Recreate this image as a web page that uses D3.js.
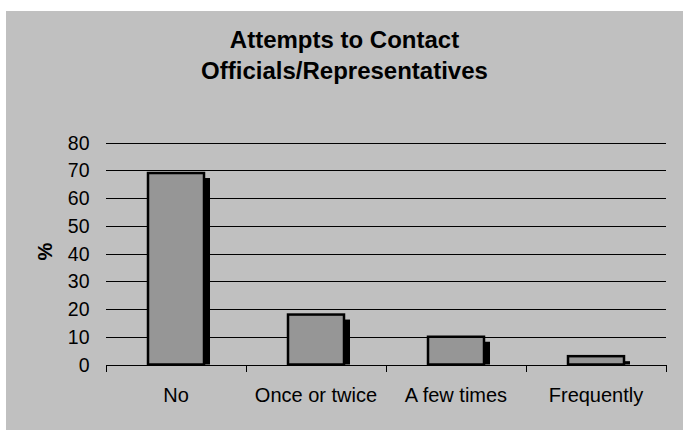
<!DOCTYPE html>
<html>
<head>
<meta charset="utf-8">
<script src="https://cdn.jsdelivr.net/npm/d3@7/dist/d3.min.js"></script>
<style>
  html, body { margin: 0; padding: 0; background: #ffffff; }
  svg { display: block; }
</style>
</head>
<body>
<svg id="chart" width="683" height="430"></svg>
<script>
// Survey responses: how often people tried to contact officials (%)
const categories = ["No", "Once or twice", "A few times", "Frequently"];
const percentages = [69, 18, 10, 3];
const yTicks = [0, 10, 20, 30, 40, 50, 60, 70, 80];
const titleLines = ["Attempts to Contact", "Officials/Representatives"];
const yLabel = "%";

const svg = d3.select("#chart");
const W = 683, H = 430;
const FONT = "Liberation Sans, Arial, sans-serif";

const plot = { left: 106, right: 666, top: 142.5, bottom: 364.5 };

// Chart panel background
svg.append("rect")
  .attr("x", 6).attr("y", 11)
  .attr("width", W - 6).attr("height", H - 11)
  .attr("fill", "#c0c0c0");

const x = d3.scaleBand()
  .domain(categories)
  .range([plot.left, plot.right])
  .paddingInner(0)
  .paddingOuter(0);

const y = d3.scaleLinear()
  .domain([0, 80])
  .range([plot.bottom, plot.top]);

// Horizontal gridlines
svg.append("g")
  .selectAll("line")
  .data(yTicks)
  .join("line")
  .attr("x1", plot.left).attr("x2", plot.right)
  .attr("y1", d => Math.round(y(d)) + 0.5)
  .attr("y2", d => Math.round(y(d)) + 0.5)
  .attr("stroke", "#000")
  .attr("stroke-width", 1);

// Y tick labels
svg.append("g")
  .selectAll("text")
  .data(yTicks)
  .join("text")
  .attr("x", 89.5)
  .attr("y", d => y(d))
  .attr("dy", "0.36em")
  .attr("text-anchor", "end")
  .attr("font-family", FONT)
  .attr("font-size", 19.5)
  .attr("fill", "#000")
  .text(d => d);

// Category tick marks on the baseline
const boundaries = categories.map(c => x(c)).concat([plot.right]);
svg.append("g")
  .selectAll("line")
  .data(boundaries)
  .join("line")
  .attr("x1", d => Math.round(d) + 0.5).attr("x2", d => Math.round(d) + 0.5)
  .attr("y1", Math.round(y(0))).attr("y2", Math.round(y(0)) + 7)
  .attr("stroke", "#000")
  .attr("stroke-width", 1);

// Bars with a drop shadow
const barW = x.bandwidth() * 0.4;
const shadowDx = 6, shadowDy = 5;
const bars = svg.append("g")
  .selectAll("g")
  .data(categories.map((c, i) => ({ c, v: percentages[i] })))
  .join("g");

bars.append("rect")
  .attr("x", d => x(d.c) + (x.bandwidth() - barW) / 2 + shadowDx)
  .attr("y", d => Math.min(y(d.v) + shadowDy, y(0) - 1))
  .attr("width", barW)
  .attr("height", d => Math.max(1, y(0) - Math.min(y(d.v) + shadowDy, y(0) - 1)))
  .attr("fill", "#000");

bars.append("rect")
  .attr("x", d => x(d.c) + (x.bandwidth() - barW) / 2)
  .attr("y", d => y(d.v))
  .attr("width", barW)
  .attr("height", d => y(0) - y(d.v))
  .attr("fill", "#969696")
  .attr("stroke", "#000")
  .attr("stroke-width", 2.5);

// Category labels
svg.append("g")
  .selectAll("text")
  .data(categories)
  .join("text")
  .attr("x", d => x(d) + x.bandwidth() / 2)
  .attr("y", 402)
  .attr("text-anchor", "middle")
  .attr("font-family", FONT)
  .attr("font-size", 20)
  .attr("fill", "#000")
  .text(d => d);

// Y axis title
svg.append("text")
  .attr("transform", "translate(52,251.5) rotate(-90)")
  .attr("text-anchor", "middle")
  .attr("font-family", FONT)
  .attr("font-weight", "bold")
  .attr("font-size", 20)
  .attr("fill", "#000")
  .text(yLabel);

// Chart title (two lines)
svg.append("g")
  .selectAll("text")
  .data(titleLines)
  .join("text")
  .attr("x", 344.5)
  .attr("y", (d, i) => 48 + i * 31)
  .attr("text-anchor", "middle")
  .attr("font-family", FONT)
  .attr("font-weight", "bold")
  .attr("font-size", 24)
  .attr("fill", "#000")
  .text(d => d);
</script>
</body>
</html>
